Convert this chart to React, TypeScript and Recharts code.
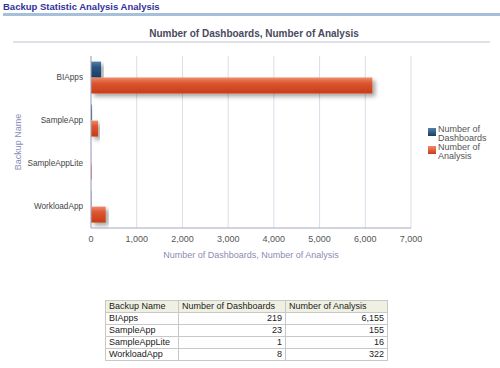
import React from "react";
import { BarChart, Bar, XAxis, YAxis, CartesianGrid } from "recharts";

const backupNames = ["BIApps", "SampleApp", "SampleAppLite", "WorkloadApp"];
const dashboards = [219, 23, 1, 8];
const analysis = [6155, 155, 16, 322];
const xTicks = [0, 1000, 2000, 3000, 4000, 5000, 6000, 7000];

const data = backupNames.map((name, i) => ({
  name,
  dashboards: dashboards[i],
  analysis: analysis[i],
}));

const FONT = "'Liberation Sans', Arial, sans-serif";

const legendItems = [
  { label: ["Number of", "Dashboards"], from: "#5580aa", to: "#173f66" },
  { label: ["Number of", "Analysis"], from: "#f08a6a", to: "#c83c16" },
];

function LegendBox() {
  return (
    <div style={{ position: "absolute", left: 428, top: 125, fontSize: 9, color: "#555", lineHeight: "9px" }}>
      {legendItems.map((it, i) => (
        <div key={i} style={{ position: "relative", height: 18, paddingLeft: 10 }}>
          <div
            style={{
              position: "absolute",
              left: 0,
              top: 3,
              width: 8,
              height: 8,
              background: `linear-gradient(${it.from}, ${it.to})`,
            }}
          />
          <div>{it.label[0]}</div>
          <div>{it.label[1]}</div>
        </div>
      ))}
    </div>
  );
}

const cell: React.CSSProperties = {
  border: "1px solid #c8c8c8",
  padding: "0 3px",
  height: 11,
  lineHeight: "11px",
  whiteSpace: "nowrap",
  overflow: "hidden",
};

export default function App() {
  return (
    <div
      style={{
        position: "absolute",
        left: 0,
        top: 0,
        width: 500,
        height: 368,
        background: "#fff",
        fontFamily: FONT,
      }}
    >
      <div
        style={{
          position: "absolute",
          left: 3,
          top: 1,
          fontSize: 9.5,
          fontWeight: "bold",
          color: "#333399",
        }}
      >
        Backup Statistic Analysis Analysis
      </div>
      <div
        style={{
          position: "absolute",
          left: 3,
          top: 13,
          width: 497,
          height: 3,
          background: "#a6c0da",
        }}
      />
      <div
        style={{
          position: "absolute",
          left: 0,
          top: 28,
          width: 500,
          textAlign: "center",
          fontSize: 10,
          fontWeight: "bold",
          color: "#4a4a5e",
          paddingLeft: 4,
        }}
      >
        Number of Dashboards, Number of Analysis
      </div>
      <div
        style={{
          position: "absolute",
          left: 13,
          top: 41,
          width: 477,
          height: 2,
          background: "#e0e0e8",
        }}
      />
      <div style={{ position: "absolute", left: 0, top: 0 }}>
        <BarChart
          width={500}
          height={266}
          data={data}
          layout="vertical"
          barCategoryGap="13%"
          barGap={0}
          margin={{ top: 56, right: 89, left: 0, bottom: 0 }}
        >
          <defs>
            <linearGradient id="gradOrange" x1="0" y1="0" x2="0" y2="1">
              <stop offset="0%" stopColor="#f08a6a" />
              <stop offset="35%" stopColor="#dc5530" />
              <stop offset="100%" stopColor="#c83c16" />
            </linearGradient>
            <linearGradient id="gradBlue" x1="0" y1="0" x2="0" y2="1">
              <stop offset="0%" stopColor="#5580aa" />
              <stop offset="35%" stopColor="#285682" />
              <stop offset="100%" stopColor="#173f66" />
            </linearGradient>
            <filter id="shadow" x="-10%" y="-30%" width="130%" height="190%">
              <feDropShadow dx={3} dy={3} stdDeviation={2} floodColor="#000" floodOpacity={0.35} />
            </filter>
          </defs>
          <CartesianGrid horizontal={false} stroke="#dcdce8" />
          <XAxis
            type="number"
            domain={[0, 7000]}
            ticks={xTicks}
            tickFormatter={(v) => v.toLocaleString("en-US")}
            tickLine={false}
            axisLine={{ stroke: "#a8a8c0" }}
            tick={{ fontSize: 9, fill: "#555", fontFamily: FONT }}
            height={38}
            label={{
              value: "Number of Dashboards, Number of Analysis",
              position: "insideBottom",
              offset: 8,
              fontSize: 9,
              fill: "#8c8cb0",
              fontFamily: FONT,
            }}
          />
          <YAxis
            type="category"
            dataKey="name"
            width={91}
            tickLine={false}
            axisLine={{ stroke: "#a8a8c0" }}
            tick={{ fontSize: 8.2, fill: "#444", fontFamily: FONT }}
            label={{
              value: "Backup Name",
              angle: -90,
              position: "insideLeft",
              offset: 18,
              fontSize: 9,
              fill: "#8c8cb8",
              fontFamily: FONT,
              style: { textAnchor: "middle" },
            }}
          />
          <Bar
            dataKey="dashboards"
            name="Number of Dashboards"
            fill="url(#gradBlue)"
            filter="url(#shadow)"
            isAnimationActive={false}
          />
          <Bar
            dataKey="analysis"
            name="Number of Analysis"
            fill="url(#gradOrange)"
            filter="url(#shadow)"
            isAnimationActive={false}
          />
        </BarChart>
      </div>
      <LegendBox />
      <table
        style={{
          position: "absolute",
          left: 105,
          top: 300,
          width: 282,
          borderCollapse: "collapse",
          tableLayout: "fixed",
          fontSize: 9,
          color: "#222",
          fontFamily: FONT,
        }}
      >
        <colgroup>
          <col style={{ width: 73 }} />
          <col style={{ width: 107 }} />
          <col style={{ width: 102 }} />
        </colgroup>
        <thead>
          <tr style={{ background: "#f0f0e2" }}>
            <td style={cell}>Backup Name</td>
            <td style={cell}>Number of Dashboards</td>
            <td style={cell}>Number of Analysis</td>
          </tr>
        </thead>
        <tbody>
          {backupNames.map((name, i) => (
            <tr key={name}>
              <td style={cell}>{name}</td>
              <td style={{ ...cell, textAlign: "right" }}>{dashboards[i].toLocaleString("en-US")}</td>
              <td style={{ ...cell, textAlign: "right" }}>{analysis[i].toLocaleString("en-US")}</td>
            </tr>
          ))}
        </tbody>
      </table>
    </div>
  );
}
